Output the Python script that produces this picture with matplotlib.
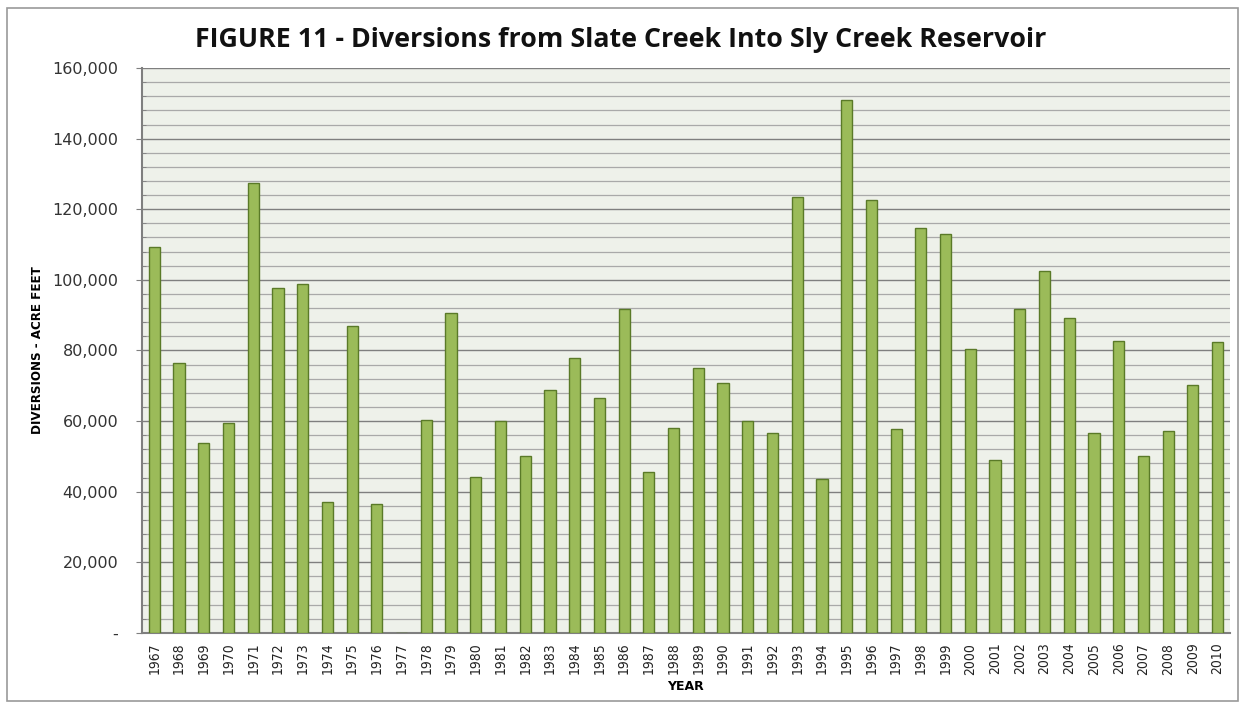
import matplotlib
matplotlib.use("Agg")
import numpy as np
import matplotlib.pyplot as plt
from matplotlib.ticker import FuncFormatter, MultipleLocator
from matplotlib.patches import Rectangle

years = list(range(1967, 2011))
diversions = [
    109300, 76500, 53900, 59500, 127300, 97700, 98700, 37000, 86800, 36400,
    0, 60300, 90600, 44200, 60000, 50100, 68800, 77900, 66500, 91700,
    45600, 58000, 75000, 70800, 60000, 56600, 123500, 43600, 150900, 122600,
    57800, 114700, 113000, 80400, 49000, 91700, 102400, 89300, 56700, 82700,
    50100, 57200, 70200, 82400,
]

BAR = "#9bbb59"
EDGE = "#5a7a28"

fig = plt.figure(figsize=(12.43, 7.04), dpi=100)
fig.patch.set_facecolor("white")

# thin frame round the whole chart
fig.patches.append(Rectangle((0.0056, 0.004), 0.99, 0.984, transform=fig.transFigure,
                             fill=False, edgecolor="#9a9a9a", lw=1.2))

ax = fig.add_axes([0.1142, 0.1009, 0.8753, 0.8025])
ax.set_facecolor("#eef1ea")

x = np.arange(len(years))
ax.bar(x, diversions, width=0.45, color=BAR, edgecolor=EDGE, linewidth=1.0, zorder=3)

ax.set_xlim(-0.5, len(years) - 0.5)
ax.set_ylim(0, 160000)
ax.yaxis.set_major_locator(MultipleLocator(20000))
ax.yaxis.set_minor_locator(MultipleLocator(4000))
ax.grid(which="major", axis="y", color="#7f7f7f", lw=1.0, zorder=1)
ax.grid(which="minor", axis="y", color="#a9a9a9", lw=0.9, zorder=1)

ax.yaxis.set_major_formatter(FuncFormatter(lambda v, p: "-" if v == 0 else f"{int(v):,}"))
ax.tick_params(axis="y", which="major", length=4, color="#7f7f7f", labelsize=11.5,
               labelcolor="#333333", pad=13)
ax.tick_params(axis="y", which="minor", length=3, direction="in", color="#7f7f7f")

ax.set_xticks(x)
ax.set_xticklabels([str(y) for y in years], rotation=90, fontsize=10,
                   family="DejaVu Sans", stretch="condensed", color="#222222")
ax.tick_params(axis="x", length=0, pad=7)

for side in ("top", "right"):
    ax.spines[side].set_visible(False)
ax.spines["left"].set_color("#7f7f7f")
ax.spines["left"].set_linewidth(1.5)
ax.spines["bottom"].set_color("#7f7f7f")
ax.spines["bottom"].set_linewidth(1.5)

ax.set_xlabel("YEAR", fontsize=9, fontweight="bold", labelpad=4)
ax.set_ylabel("DIVERSIONS - ACRE FEET", fontsize=9.5, fontweight="bold",
              family="DejaVu Sans", stretch="condensed", labelpad=6)

fig.text(0.499, 0.943, "FIGURE 11 - Diversions from Slate Creek Into Sly Creek Reservoir",
         ha="center", va="center", fontsize=19.3, fontweight="bold", family="Open Sans",
         color="#111111")

fig.savefig("out.png", dpi=100)
